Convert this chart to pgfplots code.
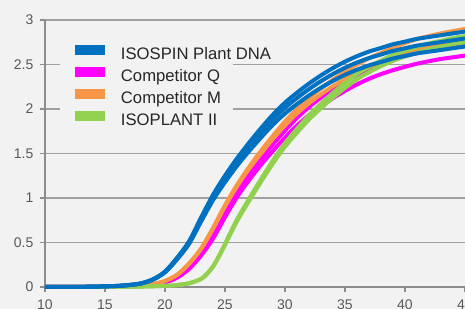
\documentclass[border=0pt]{standalone}
\usepackage{pgfplots}
\pgfplotsset{compat=1.18}
\usepackage{fontspec}
\setmainfont{Liberation Sans}
\definecolor{bg}{HTML}{F2F2F2}
\definecolor{cblue}{HTML}{0070C0}
\definecolor{cpink}{HTML}{FF00FF}
\definecolor{corange}{HTML}{F79646}
\definecolor{cgreen}{HTML}{92D050}
\definecolor{gridc}{HTML}{A0A0A0}
\definecolor{axc}{HTML}{8C8C8C}
\definecolor{tickc}{HTML}{595959}
\begin{document}
\begin{tikzpicture}
\useasboundingbox (-33.75pt,-16.5pt) rectangle (315pt,215.25pt);
\clip (-33.75pt,-16.5pt) rectangle (315pt,215.25pt);
\fill[bg] (-33.75pt,-16.5pt) rectangle (315pt,215.25pt);
\begin{axis}[
  at={(0,0)}, anchor=south west,
  scale only axis, width=315pt, height=200.25pt,
  xmin=10, xmax=45, ymin=0, ymax=3,
  axis lines=left, axis line style={-, draw=axc, line width=0.8pt},
  xtick={10,15,20,25,30,35,40,45}, ytick={0,0.5,1,1.5,2,2.5,3},
  tick align=outside, major tick length=3.75pt,
  tick style={draw=axc, line width=0.8pt},
  ymajorgrids, grid style={draw=gridc, line width=0.9pt},
  ticklabel style={font=\fontsize{10.5}{12}\selectfont, text=tickc},
  xticklabel style={yshift=-2pt},
  yticklabel style={xshift=-1.5pt},
  /pgf/number format/assume math mode=true,
  clip=false,
  legend image code/.code={\draw[#1, line width=7.5pt] (0pt,4.4pt) -- (22.5pt,4.4pt);},
  legend style={at={(axis cs:12.08,2.722)}, anchor=north west, draw=none, fill=none,
    inner sep=0pt, outer sep=0pt, row sep=2.6pt,
    font=\fontsize{12.5}{15}\selectfont, text=black!85,
    nodes={inner sep=0pt, text height=9pt, text depth=2.5pt},
    /tikz/every odd column/.append style={column sep=8.25pt}},
  legend cell align=left,
  every axis plot/.append style={line width=3pt, line join=round, smooth},
]
\fill[bg] (axis cs:11.25,2.83) rectangle (axis cs:25.67,1.76);
\addlegendimage{cblue}
\addlegendentry{ISOSPIN Plant DNA}
\addlegendimage{cpink}
\addlegendentry{Competitor Q}
\addlegendimage{corange}
\addlegendentry{Competitor M}
\addlegendimage{cgreen}
\addlegendentry{ISOPLANT II}
% Competitor Q
\addplot[cpink, forget plot] coordinates {(10,0) (12,0.001) (14,0.002) (15,0.003) (16,0.005) (17,0.008) (18,0.015) (19,0.027) (20,0.053) (21,0.109) (22,0.212) (23,0.368) (24,0.569) (25,0.822) (26,1.057) (27,1.258) (28,1.439) (29,1.604) (30,1.758) (31,1.900) (32,2.022) (33,2.128) (34,2.223) (35,2.309) (36,2.385) (37,2.451) (38,2.507) (39,2.553) (40,2.593) (41,2.629) (42,2.659) (43,2.685) (44,2.705) (45,2.725)};
\addplot[cpink, forget plot] coordinates {(10,0) (12,0.001) (14,0.002) (15,0.003) (16,0.005) (17,0.008) (18,0.014) (19,0.025) (20,0.051) (21,0.104) (22,0.202) (23,0.352) (24,0.543) (25,0.785) (26,1.009) (27,1.200) (28,1.373) (29,1.530) (30,1.678) (31,1.813) (32,1.930) (33,2.030) (34,2.122) (35,2.203) (36,2.276) (37,2.339) (38,2.392) (39,2.436) (40,2.474) (41,2.509) (42,2.537) (43,2.562) (44,2.581) (45,2.600)};
% Competitor M
\addplot[corange, forget plot] coordinates {(10,0) (12,0.001) (14,0.002) (15,0.004) (16,0.006) (17,0.010) (18,0.018) (19,0.033) (20,0.068) (21,0.137) (22,0.263) (23,0.432) (24,0.663) (25,0.919) (26,1.147) (27,1.347) (28,1.53) (29,1.70) (30,1.86) (31,2.00) (32,2.12) (33,2.23) (34,2.33) (35,2.42) (36,2.50) (37,2.57) (38,2.63) (39,2.69) (40,2.74) (41,2.785) (42,2.82) (43,2.85) (44,2.875) (45,2.90)};
\addplot[corange, forget plot] coordinates {(10,0) (12,0.001) (14,0.002) (15,0.004) (16,0.006) (17,0.010) (18,0.018) (19,0.033) (20,0.067) (21,0.135) (22,0.259) (23,0.426) (24,0.653) (25,0.905) (26,1.130) (27,1.327) (28,1.50) (29,1.665) (30,1.815) (31,1.95) (32,2.065) (33,2.165) (34,2.255) (35,2.335) (36,2.41) (37,2.47) (38,2.53) (39,2.58) (40,2.625) (41,2.665) (42,2.70) (43,2.735) (44,2.77) (45,2.80)};
% ISOPLANT II
\addplot[cgreen, forget plot] coordinates {(10,0) (14,0.001) (16,0.002) (17,0.003) (18,0.005) (19,0.008) (20,0.013) (21,0.022) (22,0.042) (23,0.091) (23.5,0.150) (24,0.232) (24.5,0.350) (25,0.485) (26,0.758) (27,0.990) (28,1.212) (29,1.424) (30,1.616) (31,1.778) (32,1.929) (33,2.060) (34,2.182) (35,2.293) (36,2.394) (37,2.475) (38,2.545) (39,2.606) (40,2.656) (41,2.697) (42,2.737) (43,2.767) (44,2.798) (45,2.818)};
\addplot[cgreen, forget plot] coordinates {(10,0) (14,0.001) (16,0.002) (17,0.003) (18,0.005) (19,0.008) (20,0.013) (21,0.021) (22,0.041) (23,0.089) (23.5,0.146) (24,0.227) (24.5,0.342) (25,0.473) (26,0.739) (27,0.965) (28,1.182) (29,1.389) (30,1.576) (31,1.734) (32,1.881) (33,2.009) (34,2.128) (35,2.236) (36,2.334) (37,2.413) (38,2.482) (39,2.541) (40,2.591) (41,2.630) (42,2.669) (43,2.699) (44,2.728) (45,2.748)};
% ISOSPIN Plant DNA
\addplot[cblue, forget plot] coordinates {(10,0) (11,0) (12,0.001) (13,0.002) (14,0.004) (15,0.007) (16,0.012) (17,0.021) (18,0.039) (19,0.082) (20,0.164) (21,0.309) (22,0.483) (23,0.733) (24,0.975) (25,1.177) (26,1.361) (27,1.525) (28,1.679) (29,1.824) (30,1.949) (31,2.055) (32,2.152) (33,2.239) (34,2.316) (35,2.384) (36,2.441) (37,2.490) (38,2.528) (39,2.567) (40,2.596) (41,2.625) (42,2.644) (43,2.663) (44,2.683) (45,2.702)};
\addplot[cblue, forget plot] coordinates {(10,0) (11,0) (12,0.001) (13,0.002) (14,0.004) (15,0.007) (16,0.012) (17,0.022) (18,0.040) (19,0.085) (20,0.169) (21,0.319) (22,0.499) (23,0.758) (24,1.007) (25,1.216) (26,1.406) (27,1.575) (28,1.735) (29,1.884) (30,2.014) (31,2.124) (32,2.223) (33,2.313) (34,2.393) (35,2.463) (36,2.522) (37,2.572) (38,2.612) (39,2.652) (40,2.682) (41,2.712) (42,2.732) (43,2.752) (44,2.772) (45,2.792)};
\addplot[cblue, forget plot] coordinates {(10,0) (11,0) (12,0.001) (13,0.002) (14,0.004) (15,0.007) (16,0.012) (17,0.023) (18,0.041) (19,0.087) (20,0.174) (21,0.328) (22,0.513) (23,0.779) (24,1.035) (25,1.251) (26,1.445) (27,1.620) (28,1.784) (29,1.937) (30,2.071) (31,2.183) (32,2.286) (33,2.378) (34,2.460) (35,2.532) (36,2.593) (37,2.645) (38,2.686) (39,2.727) (40,2.757) (41,2.788) (42,2.809) (43,2.829) (44,2.850) (45,2.870)};
\end{axis}
\end{tikzpicture}
\end{document}
